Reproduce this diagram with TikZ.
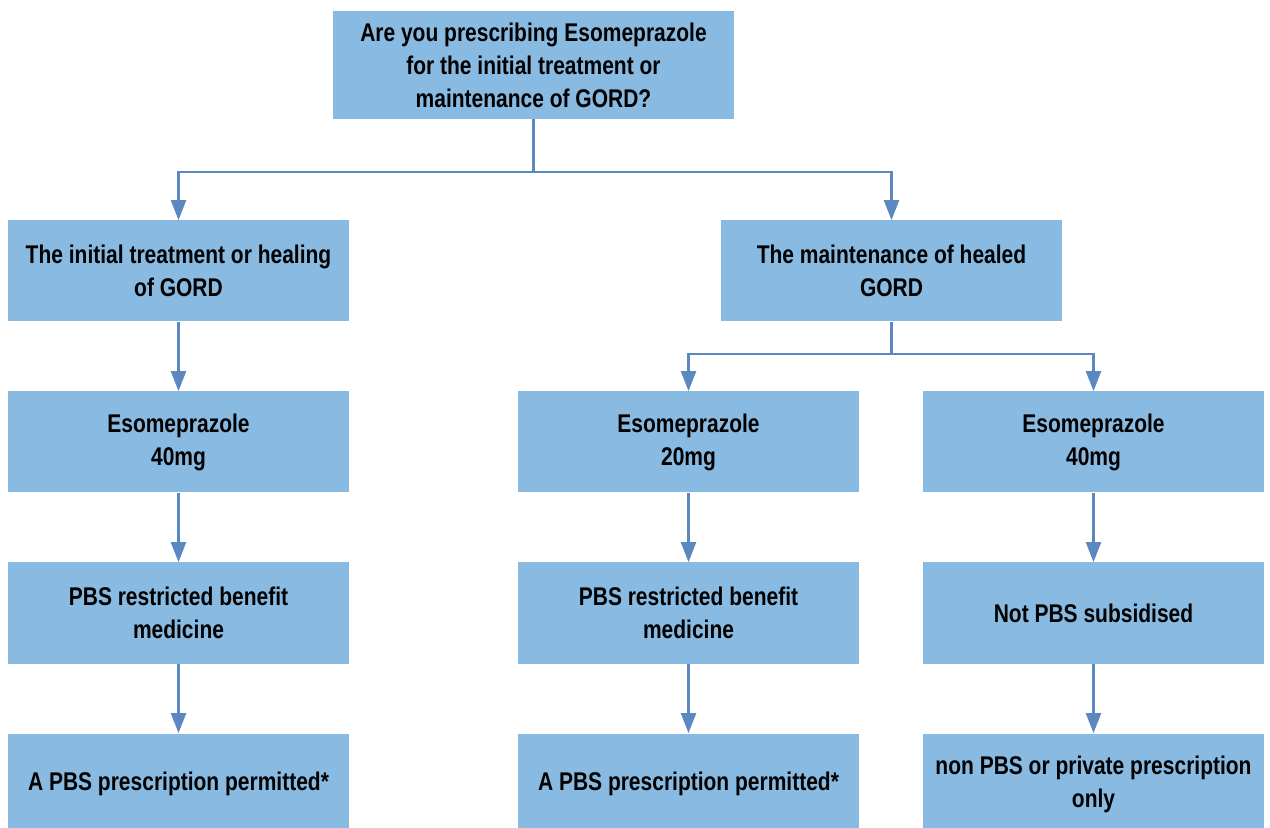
\documentclass[tikz,border=0pt]{standalone}
\usepackage{fontspec}
\setmainfont[FakeStretch=0.82]{Liberation Sans}
\usetikzlibrary{arrows.meta}
\definecolor{boxblue}{HTML}{89BBE2}
\definecolor{lineblue}{HTML}{5C88C1}
\tikzset{
  box/.style={fill=boxblue, minimum width=170.5pt, minimum height=50.5pt, align=center, inner sep=0pt, font=\fontsize{12.8}{16.5}\selectfont\bfseries},
  conn/.style={draw=lineblue, line width=1.2pt, -{Triangle[width=7.5pt,length=10pt]}}
}
\begin{document}
\begin{tikzpicture}[x=0.5pt, y=-0.5pt]
\useasboundingbox (0,0) rectangle (1270,828);

\node [box, minimum width=200.5pt, minimum height=54pt] (question) at (533.5,65) {Are you prescribing Esomeprazole\\for the initial treatment or\\maintenance of GORD?};

\node [box] (initial) at (178.5,271) {The initial treatment or healing\\of GORD};
\node [box] (maint) at (891.5,271) {The maintenance of healed\\GORD};

\node [box] (esoA) at (178.5,442) {Esomeprazole\\40mg};
\node [box] (esoB) at (688.5,442) {Esomeprazole\\20mg};
\node [box] (esoC) at (1093.5,442) {Esomeprazole\\40mg};

\node [box] (pbsA) at (178.5,613) {PBS restricted benefit\\medicine};
\node [box] (pbsB) at (688.5,613) {PBS restricted benefit\\medicine};
\node [box] (pbsC) at (1093.5,613) {Not PBS subsidised};

\node [box] (rxA) at (178.5,784) {A PBS prescription permitted*};
\node [box] (rxB) at (688.5,784) {A PBS prescription permitted*};
\node [box] (rxC) at (1093.5,784) {non PBS or private prescription\\only};

% branches
\coordinate (split1) at (533.5,172);
\coordinate (split2) at (891.5,354);
\draw [conn] (question.south) -- (split1) -| (initial.north);
\draw [conn] (split1) -| (maint.north);
\draw [conn] (maint.south) -- (split2) -| (esoB.north);
\draw [conn] (split2) -| (esoC.north);

\draw [conn] (initial) -- (esoA);
\draw [conn] (esoA) -- (pbsA);
\draw [conn] (pbsA) -- (rxA);
\draw [conn] (esoB) -- (pbsB);
\draw [conn] (pbsB) -- (rxB);
\draw [conn] (esoC) -- (pbsC);
\draw [conn] (pbsC) -- (rxC);

\end{tikzpicture}
\end{document}
